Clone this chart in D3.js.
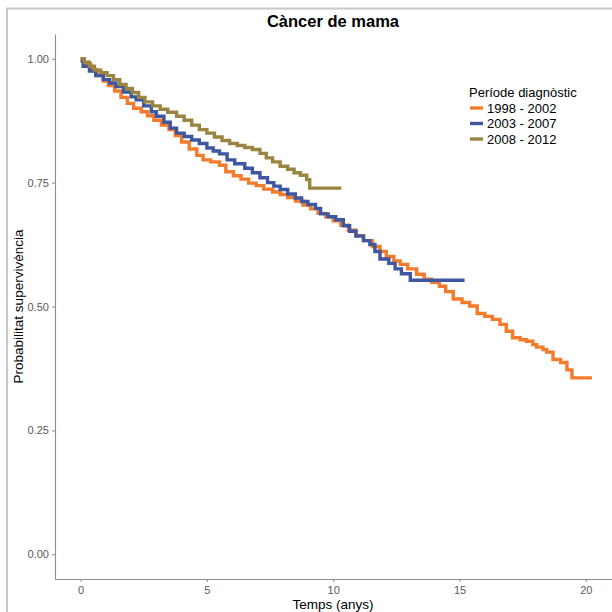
<!DOCTYPE html>
<html>
<head>
<meta charset="utf-8">
<script src="https://cdn.jsdelivr.net/npm/d3@7"></script>
<style>
  body { margin: 0; background: #fff; }
  text { font-family: "Liberation Sans", Arial, sans-serif; }
</style>
</head>
<body>
<script>
// Kaplan-Meier survival, breast cancer, by diagnosis period
var periods = ["1998 - 2002", "2003 - 2007", "2008 - 2012"];
var colors = ["#f47b2b", "#3f56a0", "#9a8442"];

var xTicks = [0, 5, 10, 15, 20];
var yTicks = [0, 0.25, 0.5, 0.75, 1];

var surv1998 = [
  [0, 1.0], [0.15, 0.99], [0.4, 0.978], [0.65, 0.966], [0.9, 0.955], [1.1, 0.946], [1.35, 0.935],
  [1.6, 0.922], [1.85, 0.91], [2.1, 0.9], [2.4, 0.893], [2.65, 0.885], [2.9, 0.876], [3.2, 0.866],
  [3.5, 0.857], [3.75, 0.845], [4.0, 0.832], [4.3, 0.818], [4.6, 0.805], [4.85, 0.796], [5.15, 0.792],
  [5.5, 0.785], [5.75, 0.772], [6.05, 0.764], [6.35, 0.757], [6.65, 0.749], [6.95, 0.744], [7.25, 0.737],
  [7.6, 0.731], [7.9, 0.726], [8.2, 0.72], [8.5, 0.713], [8.8, 0.705], [9.1, 0.697], [9.4, 0.688],
  [9.7, 0.681], [10.0, 0.673], [10.3, 0.664], [10.6, 0.654], [10.9, 0.643], [11.2, 0.633], [11.55, 0.621],
  [11.85, 0.611], [12.1, 0.601], [12.4, 0.592], [12.65, 0.585], [12.95, 0.576], [13.3, 0.565], [13.6, 0.555],
  [13.9, 0.549], [14.2, 0.541], [14.45, 0.53], [14.75, 0.515], [15.1, 0.508], [15.4, 0.501], [15.7, 0.486],
  [16.0, 0.48], [16.3, 0.474], [16.6, 0.464], [16.85, 0.45], [17.1, 0.437], [17.4, 0.433], [17.65, 0.43],
  [17.9, 0.423], [18.05, 0.418], [18.3, 0.413], [18.45, 0.408], [18.7, 0.393], [19.0, 0.387], [19.25, 0.372],
  [19.45, 0.356], [20.24, 0.356]
];

var surv2003 = [
  [0, 0.995], [0.1, 0.985], [0.35, 0.975], [0.6, 0.966], [0.9, 0.958], [1.15, 0.951], [1.4, 0.944],
  [1.7, 0.933], [2.0, 0.923], [2.2, 0.917], [2.5, 0.905], [2.8, 0.893], [3.0, 0.884], [3.3, 0.872],
  [3.55, 0.86], [3.8, 0.85], [4.1, 0.843], [4.4, 0.836], [4.7, 0.829], [5.0, 0.82], [5.25, 0.814],
  [5.5, 0.808], [5.8, 0.796], [6.1, 0.788], [6.5, 0.779], [6.8, 0.77], [7.1, 0.76], [7.4, 0.75],
  [7.65, 0.743], [7.9, 0.736], [8.2, 0.727], [8.5, 0.719], [8.75, 0.712], [9.0, 0.706], [9.3, 0.698],
  [9.5, 0.687], [9.8, 0.681], [10.1, 0.675], [10.4, 0.663], [10.65, 0.652], [10.9, 0.642], [11.2, 0.633],
  [11.45, 0.625], [11.65, 0.611], [11.85, 0.596], [12.2, 0.587], [12.45, 0.576], [12.7, 0.566], [13.05, 0.553],
  [15.2, 0.553]
];

var surv2008 = [
  [0, 1.0], [0.15, 0.993], [0.35, 0.985], [0.55, 0.977], [0.8, 0.972], [1.05, 0.966], [1.3, 0.958],
  [1.55, 0.948], [1.8, 0.94], [2.05, 0.932], [2.3, 0.922], [2.55, 0.913], [2.85, 0.905], [3.15, 0.898],
  [3.45, 0.892], [3.8, 0.884], [4.1, 0.876], [4.4, 0.866], [4.7, 0.857], [5.0, 0.85], [5.3, 0.842],
  [5.6, 0.835], [5.9, 0.829], [6.2, 0.825], [6.5, 0.821], [6.8, 0.817], [7.1, 0.809], [7.35, 0.8],
  [7.6, 0.792], [7.9, 0.783], [8.2, 0.777], [8.45, 0.77], [8.7, 0.765], [8.95, 0.756], [9.07, 0.739],
  [10.32, 0.739]
];

var series = [surv1998, surv2003, surv2008];

var margin = {top: 34, left: 55, bottom: 579, right: 617.5};

var svg = d3.select("body").append("svg")
  .attr("width", 612)
  .attr("height", 612);

// outer frame (only top/left visible)
svg.append("path")
  .attr("d", "M7,612V8.5H612")
  .attr("fill", "none")
  .attr("stroke", "#c8c8c8")
  .attr("stroke-width", 2);

var x = d3.scaleLinear()
  .domain([-1.012, 21.252])
  .range([margin.left, margin.right]);

var y = d3.scaleLinear()
  .domain([-0.05, 1.05])
  .range([margin.bottom, margin.top]);

var line = d3.line()
  .x(function(d) { return x(d[0]); })
  .y(function(d) { return y(d[1]); })
  .curve(d3.curveStepAfter);

series.forEach(function(s, i) {
  svg.append("path")
    .datum(s)
    .attr("d", line)
    .attr("fill", "none")
    .attr("stroke", colors[i])
    .attr("stroke-width", 3.4);
});

// axes
var xAxis = d3.axisBottom(x).tickValues(xTicks).tickSize(3).tickSizeOuter(0).tickPadding(4);
var yAxis = d3.axisLeft(y).tickValues(yTicks).tickSize(3).tickSizeOuter(0).tickPadding(3)
  .tickFormat(d3.format(".2f"));

var gx = svg.append("g")
  .attr("transform", "translate(0," + margin.bottom + ")")
  .call(xAxis);

var gy = svg.append("g")
  .attr("transform", "translate(" + margin.left + ",0)")
  .call(yAxis);

[gx, gy].forEach(function(g) {
  g.select(".domain").attr("stroke", "#8c8c8c").attr("stroke-width", 1.1);
  g.selectAll(".tick line").attr("stroke", "#8c8c8c");
  g.selectAll(".tick text").attr("fill", "#5a5a5a").attr("font-size", "11px");
});

// titles
svg.append("text")
  .attr("x", 333)
  .attr("y", 27)
  .attr("text-anchor", "middle")
  .attr("font-size", "16.5px")
  .attr("font-weight", "bold")
  .text("Càncer de mama");

svg.append("text")
  .attr("x", 333)
  .attr("y", 609)
  .attr("text-anchor", "middle")
  .attr("font-size", "13.5px")
  .text("Temps (anys)");

svg.append("text")
  .attr("transform", "translate(23," + ((margin.top + margin.bottom) / 2) + ") rotate(-90)")
  .attr("text-anchor", "middle")
  .attr("font-size", "13.5px")
  .text("Probabilitat supervivència");

// legend
var legend = svg.append("g")
  .attr("transform", "translate(469,0)");

legend.append("text")
  .attr("x", 0)
  .attr("y", 97)
  .attr("font-size", "13px")
  .text("Període diagnòstic");

periods.forEach(function(p, i) {
  var cy = 108 + i * 15.5;
  legend.append("line")
    .attr("x1", 1).attr("x2", 14)
    .attr("y1", cy).attr("y2", cy)
    .attr("stroke", colors[i])
    .attr("stroke-width", 3.4);
  legend.append("text")
    .attr("x", 18)
    .attr("y", cy + 4.5)
    .attr("font-size", "13px")
    .text(p);
});
</script>
</body>
</html>
